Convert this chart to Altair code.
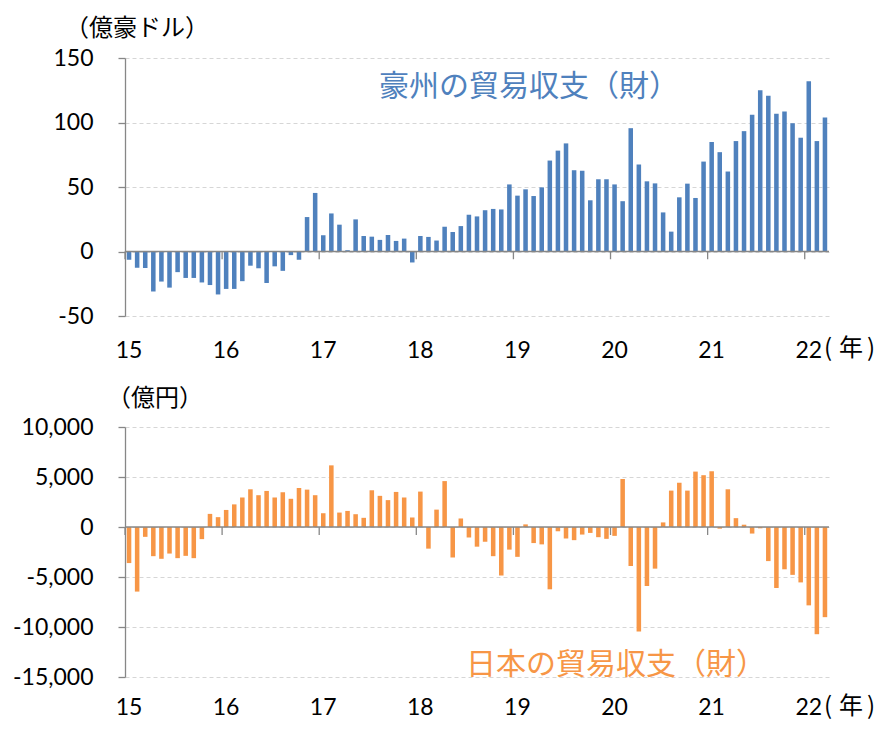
import altair as alt
import pandas as pd

# Monthly trade balance (goods), Jan 2015 - Mar 2022
aus = [
    -6.4, -12.6, -12.8, -31.0, -23.3, -28.0, -16.0, -20.5, -20.5, -24.0, -26.0, -33.3,
    -29.0, -29.0, -23.0, -11.0, -13.0, -24.4, -11.5, -15.0, -2.8, -6.4, 26.7, 45.4,
    12.6, 29.5, 20.8, 1.0, 24.9, 12.0, 11.5, 9.0, 12.8, 8.2, 10.0, -8.5,
    12.0, 11.3, 8.5, 19.2, 15.1, 19.7, 28.5, 27.2, 32.0, 33.0, 32.6, 52.0,
    43.3, 48.2, 43.0, 49.7, 70.5, 78.2, 83.8, 63.0, 62.6, 39.7, 56.0, 56.0,
    52.0, 39.0, 95.6, 67.4, 54.4, 52.8, 30.3, 15.4, 42.0, 52.6, 41.5, 69.7,
    84.9, 77.0, 62.0, 85.6, 93.3, 106.0, 125.0, 120.8, 106.7, 108.5, 99.5, 88.2,
    132.0, 85.6, 103.8,
]
jpn = [
    -3607, -6459, -984, -2918, -3180, -2656, -3115, -2885, -3115, -1213, 1311, 984,
    1705, 2262, 2951, 3770, 3180, 3607, 2951, 3475, 2820, 3902, 3738, 3180,
    1377, 6164, 1443, 1607, 1279, 918, 3672, 3115, 2689, 3508, 2951, 951,
    3541, -2164, 1738, 4590, -3049, 852, -1049, -1967, -1475, -2918, -4852, -2262,
    -2984, 262, -1607, -1738, -6230, -427, -1150, -1315, -756, -592, -1018, -1183,
    -887, 4800, -3902, -10459, -5902, -4164, 459, 3639, 4426, 3639, 5541, 5180,
    5574, -164, 3770, 885, 230, -656, -131, -3410, -6098, -4230, -4787, -5541,
    -7836, -10721, -9016,
]
year_labels = ["15", "16", "17", "18", "19", "20", "21", "22"]
year_starts = [0, 12, 24, 36, 48, 60, 72, 84]
aus_ticks = [-50, 0, 50, 100, 150]
jpn_ticks = [-15000, -10000, -5000, 0, 5000, 10000]

N = len(aus)
df_aus = pd.DataFrame({"i": list(range(N)), "v": aus})
df_jpn = pd.DataFrame({"i": list(range(N)), "v": jpn})
df_years = pd.DataFrame({"pos": year_starts, "lab": year_labels})
one = pd.DataFrame({"a": [0]})

W = 704
BLUE = "#4F81BD"
ORANGE = "#F79646"
GRAY = "#878787"
NUM_FONT = "Lato"
JP_FONT = "Noto Sans CJK JP"

xscale = alt.Scale(domain=[0, N], nice=False, zero=False)
label_expr = "datum.value < 0 ? '-' + format(-datum.value, ',') : format(datum.value, ',')"


def txt(s, x, y, size, color="black", align="center", font=JP_FONT):
    return alt.Chart(one).mark_text(
        font=font, fontSize=size, baseline="middle", align=align, color=color
    ).encode(x=alt.value(x), y=alt.value(y), text=alt.value(s))


def panel(df, color, ydomain, yvals, h, tick_len, unit_text, unit_x, unit_y,
          title_text, title_x, title_y, lab_dy, nen_dy):
    yscale = alt.Scale(domain=ydomain, nice=False, zero=False)
    bars = alt.Chart(df).transform_calculate(
        x1="datum.i + 0.22", x2="datum.i + 0.78"
    ).mark_bar(color=color).encode(
        x=alt.X("x1:Q", scale=xscale, axis=None),
        x2="x2:Q",
        y=alt.Y("v:Q", scale=yscale, title=None,
                axis=alt.Axis(values=yvals, grid=True, gridDash=[4, 3],
                              gridColor="#D6D6D6", gridWidth=1,
                              domain=True, domainColor=GRAY, domainWidth=1.3,
                              ticks=True, tickColor=GRAY, tickSize=7, tickWidth=1.3,
                              labelPadding=25, labelFont=NUM_FONT, labelFontSize=23,
                              labelColor="black", labelExpr=label_expr)),
        y2=alt.datum(0),
    )
    zero = alt.Chart(one).mark_rule(color=GRAY, strokeWidth=1.6).encode(
        y=alt.datum(0, scale=yscale)
    )
    yticks = alt.Chart(df_years).mark_rule(color=GRAY, strokeWidth=1.3).encode(
        x=alt.X("pos:Q", scale=xscale, axis=None),
        y=alt.datum(0),
        y2=alt.datum(-tick_len),
    )
    ylabels = alt.Chart(df_years).mark_text(
        font=NUM_FONT, fontSize=23, dx=4, baseline="middle", color="black"
    ).encode(
        x=alt.X("pos:Q", scale=xscale, axis=None),
        y=alt.value(h + lab_dy),
        text="lab:N",
    )
    ny = h + nen_dy
    nen_l = txt("(", 703, ny, 24)
    nen_c = txt("年", 726, ny, 24)
    nen_r = txt(")", 746, ny, 24)
    unit = txt(unit_text, unit_x, unit_y, 24)
    title = txt(title_text, title_x, title_y, 30, color=color)
    return alt.layer(bars, zero, yticks, ylabels, nen_l, nen_c, nen_r, unit, title).properties(
        width=W, height=h
    )


top = panel(df_aus, BLUE, [-50, 150], aus_ticks, 258, 6,
            "（億豪ドル）", 12, -29, "豪州の貿易収支（財）", 404, 29, 35, 33)
bottom = panel(df_jpn, ORANGE, [-15000, 10000], jpn_ticks, 250, 800,
               "（億円）", 30, -28, "日本の貿易収支（財）", 491, 238, 31, 30)

chart = alt.vconcat(top, bottom, spacing=24).properties(
    padding={"left": 4, "top": 9, "right": 0, "bottom": 0}
).configure_view(stroke=None)

chart.save("out.html", embed_options={"renderer": "svg", "actions": False})
